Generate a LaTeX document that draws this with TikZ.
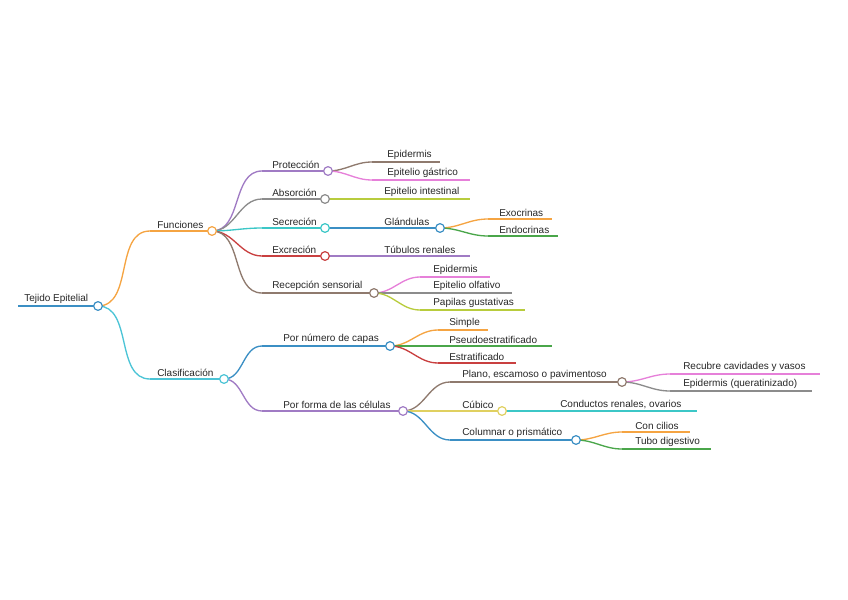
\documentclass[tikz,border=0pt]{standalone}
\usepackage{fontspec}
\setmainfont{Liberation Sans}
\definecolor{cblue}{HTML}{3B8FC4}
\definecolor{corange}{HTML}{F5A442}
\definecolor{ccyan}{HTML}{4CC4D6}
\definecolor{cpurple}{HTML}{A07BC4}
\definecolor{cgray}{HTML}{8C8C8C}
\definecolor{cteal}{HTML}{3CC7C7}
\definecolor{cred}{HTML}{C94040}
\definecolor{cbrown}{HTML}{8F7A6E}
\definecolor{cpink}{HTML}{E680D9}
\definecolor{cyg}{HTML}{B8CC3D}
\definecolor{cgreen}{HTML}{4AA64A}
\definecolor{cyellow}{HTML}{E0D060}
\newcommand\mmnode[7]{%
 \coordinate (#1S) at (#2,#4); \coordinate (#1E) at (#3,#4);
 \draw[#6,wire] (#1S)--(#1E);
 \node[lbl] (#1) at (#5,#4) {#7};}
\newcommand\mmedge[3]{\draw[#3,wire] (#1E) to[out=0,in=180] (#2S);}
\newcommand\mmcirc[2]{\node[circ,draw=#2] (#1C) at (#1E) {};}
\begin{document}
\begin{tikzpicture}[x=0.75pt,y=-0.75pt,
 wire/.style={line width=1pt},
 lbl/.style={anchor=south west,inner sep=1.5pt,font=\fontsize{7.5}{8}\selectfont,text=black!85},
 circ/.style={circle,fill=white,line width=0.9pt,minimum size=6.5pt,inner sep=0pt}]
\useasboundingbox (0,0) rectangle (848,599);
\mmnode{root}{18}{98}{306}{22}{cblue}{Tejido Epitelial}
\mmnode{fun}{150}{212}{231}{155}{corange}{Funciones}
\mmnode{cla}{150}{224}{379}{155}{ccyan}{Clasificación}
\mmnode{pro}{262}{328}{171}{270}{cpurple}{Protección}
\mmnode{abs}{262}{325}{199}{270}{cgray}{Absorción}
\mmnode{sec}{262}{325}{228}{270}{cteal}{Secreción}
\mmnode{exc}{262}{325}{256}{270}{cred}{Excreción}
\mmnode{rec}{262}{374}{293}{270}{cbrown}{Recepción sensorial}
\mmnode{epi}{372}{440}{162}{385}{cbrown}{Epidermis}
\mmnode{gas}{372}{470}{180}{385}{cpink}{Epitelio gástrico}
\mmnode{int}{372}{470}{199}{382}{cyg}{Epitelio intestinal}
\mmnode{gla}{372}{440}{228}{382}{cblue}{Glándulas}
\mmnode{exo}{488}{552}{219}{497}{corange}{Exocrinas}
\mmnode{endo}{488}{558}{236}{497}{cgreen}{Endocrinas}
\mmnode{tub}{372}{470}{256}{382}{cpurple}{Túbulos renales}
\mmnode{rep}{420}{490}{277}{431}{cpink}{Epidermis}
\mmnode{olf}{420}{512}{293}{431}{cgray}{Epitelio olfativo}
\mmnode{pap}{420}{525}{310}{431}{cyg}{Papilas gustativas}
\mmnode{num}{262}{390}{346}{281}{cblue}{Por número de capas}
\mmnode{sim}{438}{488}{330}{447}{corange}{Simple}
\mmnode{pse}{438}{552}{346}{447}{cgreen}{Pseudoestratificado}
\mmnode{est}{438}{516}{363}{447}{cred}{Estratificado}
\mmnode{for}{262}{403}{411}{281}{cpurple}{Por forma de las células}
\mmnode{pla}{450}{622}{382}{460}{cbrown}{Plano, escamoso o pavimentoso}
\mmnode{cub}{450}{502}{411}{460}{cyellow}{Cúbico}
\mmnode{col}{450}{576}{440}{460}{cblue}{Columnar o prismático}
\mmnode{rcv}{670}{820}{374}{681}{cpink}{Recubre cavidades y vasos}
\mmnode{eq}{670}{812}{391}{681}{cgray}{Epidermis (queratinizado)}
\mmnode{cdr}{550}{697}{411}{558}{cteal}{Conductos renales, ovarios}
\mmnode{cil}{622}{690}{432}{633}{corange}{Con cilios}
\mmnode{tdg}{622}{711}{449}{633}{cgreen}{Tubo digestivo}
\mmedge{root}{fun}{corange}\mmedge{root}{cla}{ccyan}
\mmedge{fun}{pro}{cpurple}\mmedge{fun}{abs}{cgray}\mmedge{fun}{sec}{cteal}
\mmedge{fun}{exc}{cred}\mmedge{fun}{rec}{cbrown}
\mmedge{pro}{epi}{cbrown}\mmedge{pro}{gas}{cpink}
\mmedge{abs}{int}{cyg}\mmedge{sec}{gla}{cblue}\mmedge{exc}{tub}{cpurple}
\mmedge{gla}{exo}{corange}\mmedge{gla}{endo}{cgreen}
\mmedge{rec}{rep}{cpink}\mmedge{rec}{olf}{cgray}\mmedge{rec}{pap}{cyg}
\mmedge{cla}{num}{cblue}\mmedge{cla}{for}{cpurple}
\mmedge{num}{sim}{corange}\mmedge{num}{pse}{cgreen}\mmedge{num}{est}{cred}
\mmedge{for}{pla}{cbrown}\mmedge{for}{cub}{cyellow}\mmedge{for}{col}{cblue}
\mmedge{pla}{rcv}{cpink}\mmedge{pla}{eq}{cgray}
\mmedge{cub}{cdr}{cteal}
\mmedge{col}{cil}{corange}\mmedge{col}{tdg}{cgreen}
\mmcirc{root}{cblue}\mmcirc{fun}{corange}\mmcirc{cla}{ccyan}
\mmcirc{pro}{cpurple}\mmcirc{abs}{cgray}\mmcirc{sec}{cteal}\mmcirc{exc}{cred}\mmcirc{rec}{cbrown}
\mmcirc{gla}{cblue}\mmcirc{num}{cblue}\mmcirc{for}{cpurple}
\mmcirc{pla}{cbrown}\mmcirc{cub}{cyellow}\mmcirc{col}{cblue}
\end{tikzpicture}
\end{document}
